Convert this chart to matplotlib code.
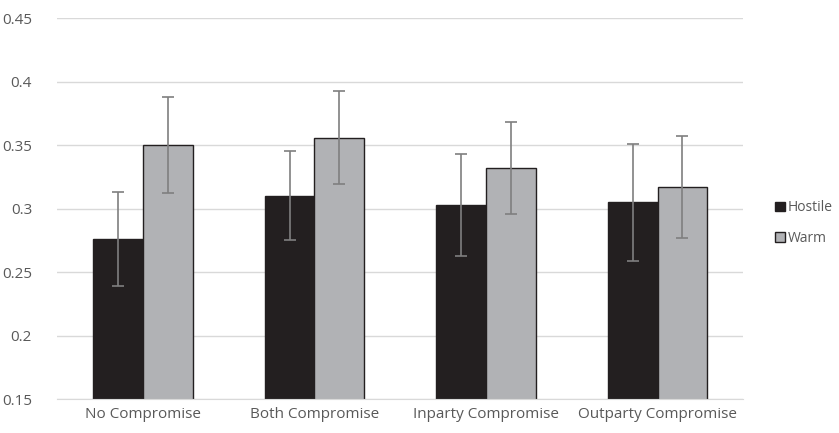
import numpy as np
import matplotlib.pyplot as plt

plt.rcParams['font.family'] = ['Open Sans', 'DejaVu Sans']

categories = ["No Compromise", "Both Compromise", "Inparty Compromise", "Outparty Compromise"]
hostile = [0.276, 0.310, 0.303, 0.305]
hostile_err = [0.037, 0.035, 0.040, 0.046]
warm = [0.350, 0.356, 0.332, 0.317]
warm_err = [0.038, 0.037, 0.036, 0.040]
y_ticks = [0.15, 0.2, 0.25, 0.3, 0.35, 0.4, 0.45]
y_labels = ["0.15", "0.2", "0.25", "0.3", "0.35", "0.4", "0.45"]

fig = plt.figure(figsize=(8.39, 4.33), dpi=100)
ax = fig.add_axes([0.068, 0.0785, 0.818, 0.8795])

x = np.arange(len(categories))
w = 0.29
err_kw = dict(ecolor='#7f7f7f', elinewidth=1.2, capsize=4, capthick=1.2)
ax.bar(x - w/2, hostile, w, yerr=hostile_err, color='#231f20', edgecolor='#231f20',
       linewidth=1, label='Hostile', error_kw=err_kw, zorder=2)
ax.bar(x + w/2, warm, w, yerr=warm_err, color='#b1b2b5', edgecolor='#231f20',
       linewidth=1, label='Warm', error_kw=err_kw, zorder=2)

ax.set_ylim(0.15, 0.45)
ax.set_xlim(-0.5, len(categories) - 0.5)
ax.set_yticks(y_ticks)
ax.set_yticklabels(y_labels)
ax.set_xticks(x)
ax.set_xticklabels(categories)
ax.yaxis.grid(True, color='#d9d9d9', linewidth=1, zorder=0)
ax.set_axisbelow(True)
for s in ['top', 'right', 'left']:
    ax.spines[s].set_visible(False)
ax.spines['bottom'].set_color('#d9d9d9')
ax.tick_params(axis='both', length=0, labelsize=11, colors='#595959')
ax.tick_params(axis='y', pad=18)
ax.tick_params(axis='x', pad=6)

# legend sits right of the plot, roughly level with the 0.3 gridline
leg = fig.legend(loc='center left', bbox_to_anchor=(0.924, 0.485), frameon=False,
                 fontsize=10, handlelength=0.7, handleheight=0.7, handletextpad=0.2,
                 labelspacing=1.1, borderaxespad=0, borderpad=0)
for t in leg.get_texts():
    t.set_color('#595959')

fig.savefig('out.png', dpi=100)
